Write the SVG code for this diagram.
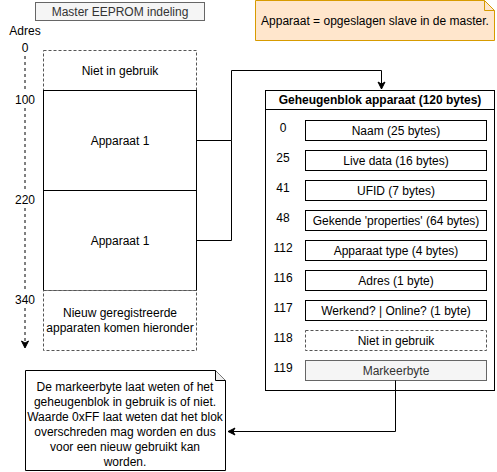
<svg xmlns="http://www.w3.org/2000/svg" width="497" height="472" viewBox="0 0 497 472">
<defs>
<marker id="arr" markerWidth="10" markerHeight="10" refX="8" refY="5" orient="auto" markerUnits="userSpaceOnUse">
<path d="M1,1.5 L8,5 L1,8.5 L3,5 Z" fill="#000" stroke="#000" stroke-width="1"/>
</marker>
</defs>
<style>
text{font-family:"Liberation Sans",Arial,sans-serif;font-size:12px;fill:#000;}
.c{text-anchor:middle;dominant-baseline:central;}
.box{fill:#fff;stroke:#000;stroke-width:1;}
.dash{fill:#fff;stroke:#555;stroke-width:1;stroke-dasharray:3 2;}
.gray{fill:#f5f5f5;stroke:#666;stroke-width:1;}
.g{fill:#333;}
.edge{fill:none;stroke:#000;stroke-width:1;}
</style>
<rect width="497" height="472" fill="#fff"/>
<g id="title">
<rect class="gray" x="35.5" y="2.5" width="169" height="18"/>
<text class="c g" x="120" y="11.5">Master EEPROM indeling</text>
</g>
<g id="note-top">
<path d="M255.5,0.5 H484.5 L494.5,10.5 V40.5 H255.5 Z" fill="#ffe6cc" stroke="#d79b00"/>
<path d="M484.5,0.5 V10.5 H494.5" fill="none" stroke="#d79b00"/>
<text class="c" x="375" y="20.5">Apparaat = opgeslagen slave in de master.</text>
</g>
<g id="axis">
<text class="c" x="25" y="31">Adres</text>
<text class="c" x="25" y="48">0</text>
<text class="c" x="25" y="100">100</text>
<text class="c" x="25" y="200">220</text>
<text class="c" x="25" y="300">340</text>
<path d="M25,56 V92 M25,108 V192 M25,208 V292 M25,308 V348" fill="none" stroke="#000" stroke-dasharray="3 3" marker-end="url(#arr)"/>
</g>
<g id="unused-top">
<rect class="dash" x="43.5" y="50.5" width="153" height="40"/>
<text class="c" x="120" y="71">Niet in gebruik</text>
</g>
<g id="apparaat1a">
<rect class="box" x="43.5" y="90.5" width="153" height="100"/>
<text class="c" x="120" y="140.5">Apparaat 1</text>
</g>
<g id="apparaat1b">
<rect class="box" x="43.5" y="190.5" width="153" height="100"/>
<text class="c" x="120" y="240.5">Apparaat 1</text>
</g>
<g id="new-devices">
<rect class="dash" x="43.5" y="290.5" width="153" height="60"/>
<text class="c" x="120" y="313">Nieuw geregistreerde</text>
<text class="c" x="120" y="328">apparaten komen hieronder</text>
</g>
<g id="geheugenblok">
<rect class="box" x="265.5" y="90.5" width="229" height="300"/>
<line x1="265.5" y1="109.5" x2="494.5" y2="109.5" stroke="#000"/>
<text class="c" x="380" y="100" font-weight="bold">Geheugenblok apparaat (120 bytes)</text>
</g>
<g id="row-naam"><text class="c" x="283" y="128">0</text><rect class="box" x="305.5" y="120.5" width="181" height="20"/><text class="c" x="396" y="130.5">Naam (25 bytes)</text></g>
<g id="row-live"><text class="c" x="283" y="158">25</text><rect class="box" x="305.5" y="150.5" width="181" height="20"/><text class="c" x="396" y="160.5">Live data (16 bytes)</text></g>
<g id="row-ufid"><text class="c" x="283" y="188">41</text><rect class="box" x="305.5" y="180.5" width="181" height="20"/><text class="c" x="396" y="190.5">UFID (7 bytes)</text></g>
<g id="row-props"><text class="c" x="283" y="218">48</text><rect class="box" x="305.5" y="210.5" width="181" height="20"/><text class="c" x="396" y="220.5">Gekende 'properties' (64 bytes)</text></g>
<g id="row-type"><text class="c" x="283" y="248">112</text><rect class="box" x="305.5" y="240.5" width="181" height="20"/><text class="c" x="396" y="250.5">Apparaat type (4 bytes)</text></g>
<g id="row-adres"><text class="c" x="283" y="278">116</text><rect class="box" x="305.5" y="270.5" width="181" height="20"/><text class="c" x="396" y="280.5">Adres (1 byte)</text></g>
<g id="row-werkend"><text class="c" x="283" y="308">117</text><rect class="box" x="305.5" y="300.5" width="181" height="20"/><text class="c" x="396" y="310.5">Werkend? | Online? (1 byte)</text></g>
<g id="row-niet"><text class="c" x="283" y="338">118</text><rect class="dash" x="305.5" y="330.5" width="181" height="20"/><text class="c" x="396" y="340.5">Niet in gebruik</text></g>
<g id="row-markeer"><text class="c" x="283" y="368">119</text><rect class="gray" x="305.5" y="360.5" width="181" height="20"/><text class="c g" x="396" y="370.5">Markeerbyte</text></g>
<g id="note-bottom">
<path d="M25.5,370.5 H215.5 L225.5,380.5 V470.5 H25.5 Z" fill="#fff" stroke="#000"/>
<path d="M215.5,370.5 V380.5 H225.5" fill="#eee" stroke="#000"/>
<text class="c" x="125" y="387">De markeerbyte laat weten of het</text>
<text class="c" x="125" y="402">geheugenblok in gebruik is of niet.</text>
<text class="c" x="125" y="417">Waarde 0xFF laat weten dat het blok</text>
<text class="c" x="125" y="432">overschreden mag worden en dus</text>
<text class="c" x="125" y="447">voor een nieuw gebruikt kan</text>
<text class="c" x="125" y="462">worden.</text>
</g>
<g id="connectors">
<path class="edge" d="M196.5,140.5 H231.5 V70.5 H381.5 V89" marker-end="url(#arr)"/>
<path class="edge" stroke="#555" d="M196.5,240.5 H231.5 V140.5"/>
<path class="edge" stroke="#444" d="M395.5,380.5 V431.5 H228" marker-end="url(#arr)"/>
</g>
</svg>
